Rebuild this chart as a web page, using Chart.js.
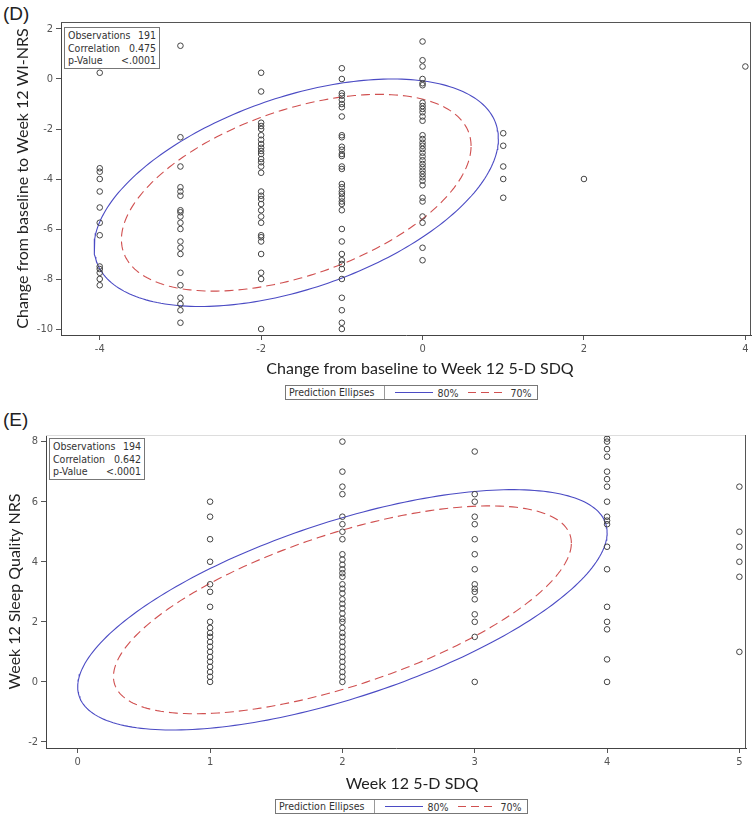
<!DOCTYPE html>
<html>
<head>
<meta charset="utf-8">
<script src="https://cdn.jsdelivr.net/npm/chart.js@4"></script>
<style>
  body { margin: 0; background: #fff; width: 756px; height: 815px; position: relative; overflow: hidden; }
  canvas { position: absolute; left: 0; }
  .panel { position: absolute; left: 3px; font: 19px "Liberation Sans", Arial, sans-serif; color: #222; }
  .xtitle { position: absolute; font: 16px Lato, "Open Sans", sans-serif; color: #222; transform: translateX(-50%); white-space: nowrap; }
  .stats { position: absolute; border: 1px solid #777; background: #fff; padding: 1px 3px;
           font: 10.5px "Liberation Sans Narrow", "DejaVu Sans Condensed", sans-serif; color: #333; line-height: 12.5px; }
  .stats div { display: flex; justify-content: space-between; }
  .legend { position: absolute; border: 1px solid #777; height: 13px; display: flex; align-items: center;
            font: 10.5px "Liberation Sans Narrow", "DejaVu Sans Condensed", sans-serif; color: #333; background: #fff; }
  .legend .lab { border-right: 1px solid #999; padding: 0 10px 0 3px; height: 13px; line-height: 13px; }
  .legend .ln { display: inline-block; width: 38px; margin: 0 4px 0 10px; height: 1px; }
  .legend .solid { background: #4b4bc4; }
  .legend .dash { background: repeating-linear-gradient(90deg, #d05050 0 8px, transparent 8px 13px); }
</style>
</head>
<body>
<div class="panel" style="top:3px">(D)</div>
<canvas id="chartD" width="756" height="380" style="top:0"></canvas>
<div class="stats" style="left:64px;top:27px;width:88px">
  <div><span>Observations</span><span>191</span></div>
  <div><span>Correlation</span><span>0.475</span></div>
  <div><span>p-Value</span><span>&lt;.0001</span></div>
</div>
<div class="xtitle" style="left:420px;top:358px">Change from baseline to Week 12 5-D SDQ</div>
<div class="legend" style="left:285px;top:385px">
  <span class="lab">Prediction Ellipses</span>
  <span class="ln solid"></span><span>80%</span>
  <span class="ln dash"></span><span style="padding-right:6px">70%</span>
</div>

<div class="panel" style="top:409px">(E)</div>
<canvas id="chartE" width="756" height="380" style="top:400px"></canvas>
<div class="stats" style="left:49px;top:438px;width:88px">
  <div><span>Observations</span><span>194</span></div>
  <div><span>Correlation</span><span>0.642</span></div>
  <div><span>p-Value</span><span>&lt;.0001</span></div>
</div>
<div class="xtitle" style="left:412px;top:773px">Week 12 5-D SDQ</div>
<div class="legend" style="left:275px;top:799px">
  <span class="lab">Prediction Ellipses</span>
  <span class="ln solid"></span><span>80%</span>
  <span class="ln dash"></span><span style="padding-right:6px">70%</span>
</div>

<script>
// Panel D: change in 5-D SDQ (x) vs change in WI-NRS (y), one array per x column
const dColumns = [-4, -3, -2, -1, 0, 1, 2, 4];
const dColM4 = [0.25, -3.57, -3.71, -4.0, -4.5, -5.14, -5.75, -6.25, -7.5, -7.6, -7.75, -8.0, -8.25];
const dColM3 = [1.33, -2.33, -3.5, -4.33, -4.5, -4.67, -5.25, -5.33, -5.5, -5.75, -6.0, -6.5, -6.75, -7.0, -7.75, -8.25, -8.75, -9.0, -9.25, -9.75];
const dColM2 = [0.25, -0.5, -1.75, -1.88, -2.0, -2.25, -2.43, -2.6, -2.75, -2.88, -3.0, -3.2, -3.33, -3.5, -3.75, -4.5, -4.67, -4.8, -5.0, -5.25, -5.5, -5.75, -6.25, -6.33, -6.5, -7.0, -7.75, -8.0, -10.0];
const dColM1 = [0.43, 0, -0.57, -0.67, -0.83, -1.0, -1.13, -1.5, -2.25, -2.33, -2.71, -2.83, -3.0, -3.08, -3.5, -3.6, -4.2, -4.33, -4.5, -4.6, -4.75, -4.9, -5.0, -5.25, -6.0, -6.5, -7.0, -7.25, -7.4, -7.6, -8.0, -8.75, -9.25, -9.75, -10.0];
const dCol0 = [1.5, 0.75, 0.5, 0, -0.17, -0.25, -0.95, -1.08, -1.2, -1.33, -1.5, -1.67, -2.25, -2.4, -2.55, -2.67, -2.8, -2.95, -3.1, -3.25, -3.4, -3.53, -3.67, -3.8, -3.93, -4.07, -4.25, -4.75, -4.9, -5.5, -5.75, -6.75, -7.25];
const dColP1 = [-2.17, -2.67, -3.5, -4.0, -4.75];
const dColP2 = [-4.0];
const dColP4 = [0.5];
const dXTicks = [-4, -2, 0, 2, 4];
const dYTicks = [-10, -8, -6, -4, -2, 0, 2];
// summary stats behind the prediction ellipses
const dMean = [-1.565, -4.55];
const dSd = [1.396, 2.536];
const dCorr = 0.475;

// Panel E: week 12 5-D SDQ (x) vs week 12 sleep quality NRS (y)
const eColumns = [1, 2, 3, 4, 5];
const eCol1 = [6.0, 5.5, 4.75, 4.0, 3.25, 3.0, 2.5, 2.0, 1.8, 1.63, 1.5, 1.33, 1.17, 1.0, 0.83, 0.67, 0.5, 0.33, 0.17, 0];
const eCol2 = [8.0, 7.0, 6.5, 6.25, 5.5, 5.25, 5.0, 4.75, 4.25, 4.07, 3.9, 3.75, 3.62, 3.5, 3.25, 3.1, 2.95, 2.75, 2.6, 2.45, 2.28, 2.1, 2.0, 1.8, 1.63, 1.5, 1.33, 1.17, 1.0, 0.83, 0.67, 0.5, 0.33, 0.17, 0];
const eCol3 = [7.67, 6.25, 6.0, 5.5, 5.25, 4.75, 4.25, 3.75, 3.25, 3.1, 3.0, 2.75, 2.25, 2.0, 1.5, 0];
const eCol4 = [8.25, 8.1, 8.0, 7.75, 7.5, 7.0, 6.75, 6.5, 6.0, 5.5, 5.37, 5.25, 4.5, 3.75, 2.5, 2.0, 1.75, 0.75, 0];
const eCol5 = [6.5, 5.0, 4.5, 4.0, 3.5, 1.0];
const eXTicks = [0, 1, 2, 3, 4, 5];
const eYTicks = [-2, 0, 2, 4, 6, 8];
const eMean = [2.0, 2.4];
const eSd = [1.115, 2.23];
const eCorr = 0.642;

const levels = [0.8, 0.7];

// Build {x,y} points from column arrays
function toPoints(columns, cols) {
  const pts = [];
  columns.forEach((x, i) => cols[i].forEach(y => pts.push({ x, y })));
  return pts;
}

// Prediction ellipse outline for a bivariate normal at a given coverage level
function ellipse(mean, sd, r, p) {
  const k = Math.sqrt(-2 * Math.log(1 - p));
  const pts = [];
  for (let i = 0; i <= 240; i++) {
    const t = (i / 240) * 2 * Math.PI;
    pts.push({
      x: mean[0] + k * sd[0] * Math.cos(t),
      y: mean[1] + k * sd[1] * (r * Math.cos(t) + Math.sqrt(1 - r * r) * Math.sin(t))
    });
  }
  return pts;
}

// Box around the plot area
const frame = {
  id: "frame",
  afterDraw(chart, args, opts) {
    const { ctx, chartArea: a } = chart;
    ctx.save();
    ctx.lineWidth = 1;
    ctx.strokeStyle = opts.top || "#555";
    ctx.beginPath();
    ctx.moveTo(a.left, a.top + 0.5);
    ctx.lineTo(a.right, a.top + 0.5);
    ctx.stroke();
    ctx.strokeStyle = "#555";
    ctx.beginPath();
    ctx.moveTo(a.right - 0.5, a.top);
    ctx.lineTo(a.right - 0.5, a.bottom);
    ctx.stroke();
    ctx.restore();
  }
};

const tickFont = { family: "'Liberation Sans Narrow', 'DejaVu Sans Condensed', sans-serif", size: 11 };

function makeChart(id, cfg) {
  new Chart(document.getElementById(id), {
    type: "scatter",
    data: {
      datasets: [
        {
          data: toPoints(cfg.columns, cfg.cols),
          pointStyle: "circle",
          pointRadius: 2.8,
          pointBorderWidth: 1,
          pointBorderColor: "#444",
          pointBackgroundColor: "rgba(0,0,0,0)"
        },
        {
          data: ellipse(cfg.mean, cfg.sd, cfg.corr, levels[0]),
          showLine: true, pointRadius: 0, borderWidth: 1.1,
          borderColor: "#4b4bc4", tension: 0
        },
        {
          data: ellipse(cfg.mean, cfg.sd, cfg.corr, levels[1]),
          showLine: true, pointRadius: 0, borderWidth: 1.1,
          borderColor: "#d05050", borderDash: [9, 5], tension: 0
        }
      ]
    },
    options: {
      responsive: false,
      animation: false,
      layout: { padding: cfg.padding },
      plugins: { legend: { display: false }, tooltip: { enabled: false }, frame: { top: cfg.frameTop } },
      scales: {
        x: {
          min: cfg.xRange[0], max: cfg.xRange[1],
          afterBuildTicks: s => { s.ticks = cfg.xTicks.map(v => ({ value: v })); },
          afterFit: s => { s.height = cfg.xHeight; },
          ticks: { font: tickFont, color: "#555", padding: 3, maxRotation: 0 },
          grid: { drawOnChartArea: false, tickLength: 5, color: "#555" },
          border: { color: "#444", width: 1 }
        },
        y: {
          min: cfg.yRange[0], max: cfg.yRange[1],
          afterBuildTicks: s => { s.ticks = cfg.yTicks.map(v => ({ value: v })); },
          afterFit: s => { s.width = cfg.yWidth; },
          ticks: { font: tickFont, color: "#555", padding: 3 },
          grid: { drawOnChartArea: false, tickLength: 5, color: "#555" },
          border: { color: "#444", width: 1 },
          title: {
            display: true, text: cfg.yTitle, color: "#222",
            font: { family: "Lato, 'Open Sans', sans-serif", size: 16 },
            padding: { top: 4, bottom: 4 }
          }
        }
      }
    },
    plugins: [frame]
  });
}

makeChart("chartD", {
  columns: dColumns,
  cols: [dColM4, dColM3, dColM2, dColM1, dCol0, dColP1, dColP2, dColP4],
  mean: dMean, sd: dSd, corr: dCorr,
  xRange: [-4.48, 4.07], yRange: [-10.24, 2.28],
  xTicks: dXTicks, yTicks: dYTicks,
  yTitle: "Change from baseline to Week 12 WI-NRS",
  padding: { left: 9, top: 22, right: 4, bottom: 0 },
  yWidth: 52, xHeight: 45, frameTop: "#555"
});

makeChart("chartE", {
  columns: eColumns,
  cols: [eCol1, eCol2, eCol3, eCol4, eCol5],
  mean: eMean, sd: eSd, corr: eCorr,
  xRange: [-0.24, 5.05], yRange: [-2.2, 8.22],
  xTicks: eXTicks, yTicks: eYTicks,
  yTitle: "Week 12 Sleep Quality NRS",
  padding: { left: 1, top: 35, right: 10, bottom: 0 },
  yWidth: 45, xHeight: 32, frameTop: "#ddd"
});
</script>
</body>
</html>
